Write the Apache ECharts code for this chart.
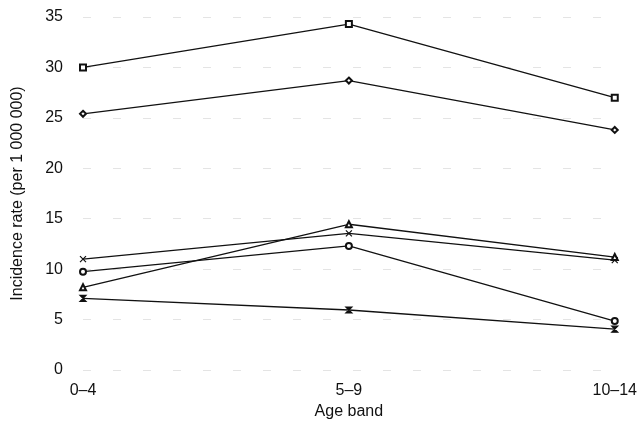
<!DOCTYPE html>
<html>
<head>
<meta charset="utf-8">
<script src="https://cdn.jsdelivr.net/npm/echarts@6/dist/echarts.min.js"></script>
<style>html,body{margin:0;padding:0;background:#fff}#c{width:640px;height:430px}</style>
</head>
<body>
<div id="c"></div>
<script>
var categories = ['0\u20134', '5\u20139', '10\u201314'];
var squareSeries = [30.0, 34.3, 27.0];
var diamondSeries = [25.4, 28.7, 23.8];
var crossSeries = [11.0, 13.55, 10.9];
var triangleSeries = [8.2, 14.45, 11.2];
var circleSeries = [9.75, 12.3, 4.85];
var bowtieSeries = [7.1, 5.95, 4.05];
var yTicks = [0, 5, 10, 15, 20, 25, 30, 35];

var crossPath = 'path://M0,0L10,10M10,0L0,10';
var bowtiePath = 'path://M0,0L10,0L0,10L10,10Z';

function mk(data, symbol, size) {
  return {
    type: 'line', data: data, symbol: symbol, symbolSize: size || 6,
    showAllSymbol: true,
    lineStyle: { color: '#111', width: 1.3 },
    itemStyle: { color: '#111', borderColor: '#111', borderWidth: 1.2 },
    emphasis: { disabled: true }, animation: false
  };
}

var font = 'Liberation Sans';
var chart = echarts.init(document.getElementById('c'), null, { renderer: 'canvas' });
chart.setOption({
  animation: false,
  grid: { left: 83, right: 25, top: 17, bottom: 60 },
  xAxis: {
    type: 'category', data: categories, boundaryGap: false,
    axisLine: { show: false }, axisTick: { show: false },
    axisLabel: { color: '#111', fontSize: 16, fontFamily: font, margin: 13 },
    name: 'Age band', nameLocation: 'middle', nameGap: 30,
    nameTextStyle: { color: '#111', fontSize: 16, fontFamily: font }
  },
  yAxis: {
    type: 'value', min: 0, max: 35, interval: 5,
    axisLine: { show: false }, axisTick: { show: false },
    axisLabel: { color: '#111', fontSize: 16, fontFamily: font, margin: 20,
      formatter: function (v) { return yTicks.indexOf(v) >= 0 ? String(v) : ''; } },
    splitLine: { show: true, lineStyle: { color: '#e4e4e4', type: [8, 22], width: 1 } },
    name: 'Incidence rate (per 1 000 000)', nameLocation: 'middle', nameGap: 57,
    nameTextStyle: { color: '#111', fontSize: 16, fontFamily: font }
  },
  series: [
    mk(squareSeries, 'emptyRect', 6),
    mk(diamondSeries, 'emptyDiamond', 6),
    mk(crossSeries, crossPath, 6),
    mk(triangleSeries, 'emptyTriangle', 6),
    mk(circleSeries, 'emptyCircle', 6),
    mk(bowtieSeries, bowtiePath, 6)
  ]
});
</script>
</body>
</html>
